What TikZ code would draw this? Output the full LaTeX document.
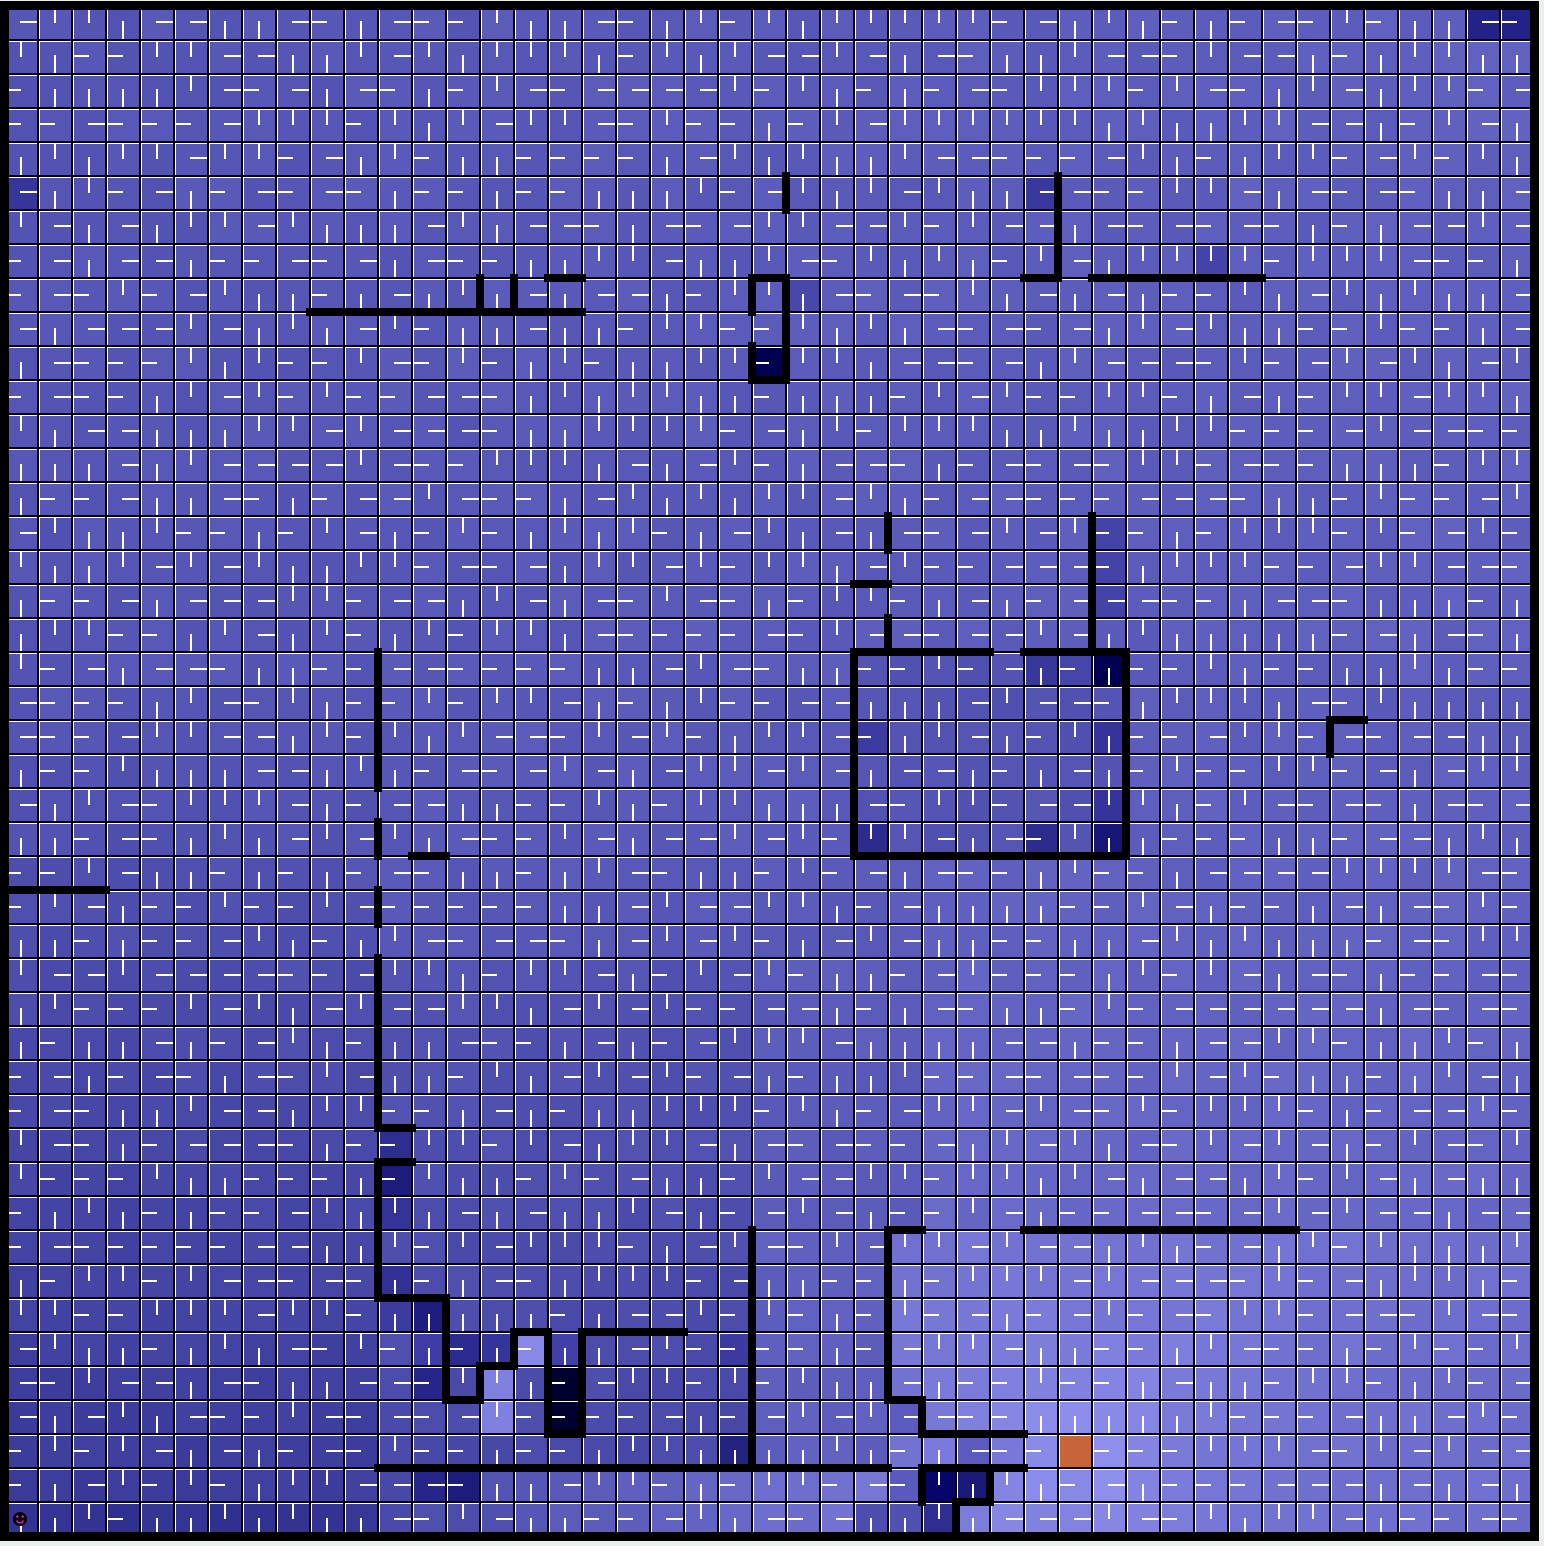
\documentclass[tikz,border=0pt]{standalone}
\definecolor{bgc}{HTML}{EAF0EF}
\definecolor{goalc}{HTML}{C8643A}
\definecolor{agentm}{HTML}{E020E0}
\newcommand\setov[3]{\expandafter\def\csname ov-#1-#2\endcsname{#3}}
\newcommand\computet[2]{%
 \pgfmathsetmacro\tv{0.44+0.08*#1/44}%
 \ifnum#1<11\relax
   \ifnum#2>20\relax \pgfmathsetmacro\tv{\tv-0.008*(#2-20)}\fi
   \ifnum#2=44\relax \pgfmathsetmacro\tv{\tv-0.07}\fi
 \fi
 \ifnum#1>10\relax\ifnum#1<22\relax\ifnum#2>27\relax
   \pgfmathsetmacro\tv{0.42-0.004*(#2-28)}\fi\fi\fi
 \ifnum#1>21\relax\ifnum#1<26\relax\ifnum#2>35\relax
   \pgfmathsetmacro\tv{0.52}\fi\fi\fi
 \ifnum#1>26\relax\ifnum#2>19\relax\ifnum#2<36\relax
   \pgfmathsetmacro\tv{0.50+0.08*(#2-20)/15}\fi\fi\fi
 \ifnum#1>24\relax\ifnum#1<33\relax\ifnum#2>18\relax\ifnum#2<25\relax
   \pgfmathsetmacro\tv{0.43}\fi\fi\fi\fi
 \ifnum#2>42\relax\ifnum#1>10\relax\ifnum#1<27\relax
   \pgfmathsetmacro\tv{0.35+0.35*(#1-11)/15}\fi\fi\fi
 \ifnum#1>25\relax\ifnum#2>35\relax
   \pgfmathsetmacro\tv{0.62+0.32*exp(-max(abs(#1-31),abs(#2-42))/3)}\fi\fi
 \pgfmathsetmacro\tv{\tv+0.05*(rnd-0.5)}%
}
% overrides (column, row, R,G,B)
\setov{43}{0}{34,34,136}\setov{44}{0}{34,34,136}
\setov{0}{5}{53,53,154}\setov{30}{5}{56,56,158}\setov{35}{7}{68,68,168}
\setov{23}{8}{72,72,168}\setov{22}{10}{0,0,80}
\setov{32}{15}{68,68,168}\setov{32}{16}{68,68,168}\setov{32}{17}{68,68,168}
\setov{30}{19}{56,56,154}\setov{31}{19}{70,70,170}\setov{32}{19}{0,0,80}
\setov{25}{21}{60,60,160}\setov{32}{21}{52,52,154}\setov{32}{23}{52,52,154}
\setov{25}{24}{44,44,142}\setov{30}{24}{44,44,142}\setov{32}{24}{22,22,118}
\setov{11}{33}{46,46,144}\setov{11}{34}{28,28,124}\setov{11}{35}{52,52,152}
\setov{11}{37}{48,48,150}\setov{11}{38}{60,60,160}\setov{12}{38}{30,30,128}
\setov{12}{39}{60,60,164}\setov{13}{39}{44,44,144}\setov{14}{39}{52,52,154}
\setov{15}{39}{136,136,232}\setov{16}{39}{64,64,168}\setov{12}{40}{38,38,138}
\setov{14}{40}{128,128,224}\setov{16}{40}{0,0,48}\setov{14}{41}{128,128,224}
\setov{16}{41}{0,0,48}\setov{21}{39}{58,58,160}\setov{21}{42}{34,34,127}
\setov{12}{43}{38,38,138}\setov{13}{43}{28,28,124}
\setov{26}{41}{90,90,191}\setov{27}{42}{122,122,222}\setov{28}{42}{90,90,191}
\setov{29}{42}{120,120,218}\setov{27}{43}{5,5,106}\setov{28}{43}{26,26,120}
\setov{27}{44}{46,46,144}\setov{26}{43}{90,90,188}\setov{26}{44}{80,80,176}
\setov{25}{44}{77,77,176}
\tikzset{
  arr/.style={white,line width=2pt},
  gridline/.style={black,line width=2pt},
  hilite/.style={white,line width=1pt},
  wall/.style={black,line width=8pt,line cap=rect,line join=miter},
  border/.style={black,line width=9pt,line join=miter}
}
\begin{document}
\begin{tikzpicture}[x=1pt,y=-1pt]
\useasboundingbox (0,0) rectangle (1544,1546);
\fill[bgc] (0,0) rectangle (1544,1546);
\pgfmathsetseed{11}
% cells
\foreach \ci in {0,...,44}{
  \foreach \ri in {0,...,44}{
    \pgfmathsetmacro\X{4+34*\ci}
    \pgfmathsetmacro\Y{6+34*\ri}
    \computet{\ci}{\ri}
    \pgfmathtruncatemacro\Rv{26+134*\tv}
    \pgfmathtruncatemacro\Bv{122+133*\tv}
    \ifcsname ov-\ci-\ri\endcsname
      \edef\rgbv{\csname ov-\ci-\ri\endcsname}
    \else
      \edef\rgbv{\Rv,\Rv,\Bv}
    \fi
    \edef\tmpdef{\noexpand\definecolor{cellc}{RGB}{\rgbv}}\tmpdef
    \fill[cellc] (\X,\Y) rectangle ++(34,34);
    \pgfmathrandominteger{\dv}{0}{3}
    \ifcase\dv
      \draw[arr] (\X+16.5,\Y+2) -- (\X+16.5,\Y+17);
    \or
      \draw[arr] (\X+16.5,\Y+15.5) -- (\X+16.5,\Y+33);
    \or
      \draw[arr] (\X+2,\Y+16.5) -- (\X+17,\Y+16.5);
    \or
      \draw[arr] (\X+15.5,\Y+16.5) -- (\X+33,\Y+16.5);
    \fi
  }
}
% highlights and grid
\foreach \i in {0,...,44}{
  \draw[hilite] (5.5+34*\i,6) -- (5.5+34*\i,1536);
  \draw[hilite] (4,7.5+34*\i) -- (1534,7.5+34*\i);
}
\foreach \i in {0,...,45}{
  \draw[gridline] (4+34*\i,6) -- (4+34*\i,1536);
  \draw[gridline] (4,6+34*\i) -- (1534,6+34*\i);
}
% goal cell
\fill[goalc] (1060,1436) rectangle (1091,1467);
% walls (grid edge coordinates)
\begin{scope}[shift={(4,6)},x=34pt,y=-34pt]
  \draw[wall] (23,5) -- (23,6);
  \draw[wall] (9,9) -- (17,9);
  \draw[wall] (14,8) -- (14,9);
  \draw[wall] (15,8) -- (15,9);
  \draw[wall] (16,8) -- (17,8);
  \draw[wall] (22,9) -- (22,8) -- (23,8) -- (23,11) -- (22,11) -- (22,10);
  \draw[wall] (31,5) -- (31,8) -- (30,8);
  \draw[wall] (32,8) -- (37,8);
  \draw[wall] (26,15) -- (26,16);
  \draw[wall] (25,17) -- (26,17);
  \draw[wall] (26,18) -- (26,19);
  \draw[wall] (32,15) -- (32,19);
  \draw[wall] (29,19) -- (25,19) -- (25,25) -- (33,25) -- (33,19) -- (30,19);
  \draw[wall] (40,21) -- (39,21) -- (39,22);
  \draw[wall] (11,19) -- (11,23);
  \draw[wall] (11,24) -- (11,25);
  \draw[wall] (12,25) -- (13,25);
  \draw[wall] (0,26) -- (3,26);
  \draw[wall] (11,26) -- (11,27);
  \draw[wall] (12,33) -- (11,33) -- (11,28);
  \draw[wall] (12,34) -- (11,34) -- (11,38) -- (13,38) -- (13,41) -- (14,41) -- (14,40) -- (15,40) -- (15,39) -- (16,39) -- (16,42) -- (17,42) -- (17,39) -- (20,39);
  \draw[wall] (22,36) -- (22,43);
  \draw[wall] (11,43) -- (26,43);
  \draw[wall] (27,36) -- (26,36) -- (26,41) -- (27,41) -- (27,42) -- (30,42);
  \draw[wall] (27,43) -- (30,43);
  \draw[wall] (27,43) -- (27,44);
  \draw[wall] (29,43) -- (29,44) -- (28,44) -- (28,45);
  \draw[wall] (30,36) -- (38,36);
  \draw[border] (0,0) rectangle (45,45);
\end{scope}
% agent
\fill[black] (20,1519) circle (7);
\fill[agentm] (17.3,1516.5) circle (1.3);
\fill[agentm] (22.7,1516.5) circle (1.3);
\draw[agentm,line width=1.2pt] (16.5,1520.5) .. controls (18,1523.5) and (22,1523.5) .. (23.5,1520.5);
\end{tikzpicture}
\end{document}
